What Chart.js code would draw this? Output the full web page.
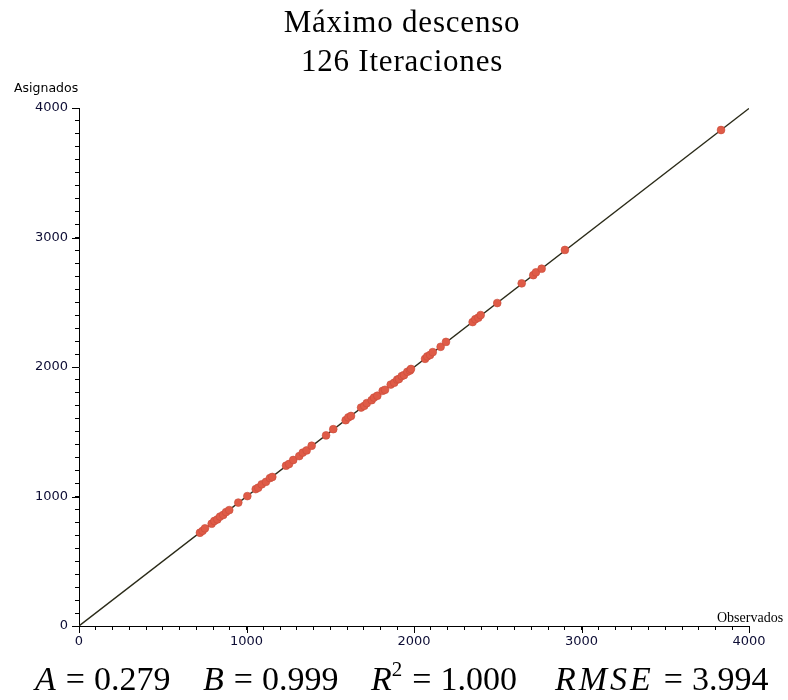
<!DOCTYPE html>
<html><head><meta charset="utf-8">
<script src="https://cdn.jsdelivr.net/npm/chart.js@4/dist/chart.umd.min.js"></script>
<style>
html,body{margin:0;padding:0;background:#fff;}
#wrap{position:relative;width:788px;height:700px;overflow:hidden;}
canvas{position:absolute;left:0;top:0;}
.t{position:absolute;font-family:"Liberation Serif",serif;color:#000;white-space:nowrap;line-height:1;}
.s{position:absolute;font-family:"DejaVu Sans",sans-serif;color:#000;white-space:nowrap;line-height:1;}
.m{position:absolute;top:662px;font-family:"Liberation Serif",serif;font-size:34px;line-height:1;white-space:nowrap;}
.m i{font-style:italic;}
.m .eq{margin:0 9px 0 10px;}
.m .wide{letter-spacing:3px;}
sup{font-size:21px;vertical-align:14px;line-height:0;}
</style></head><body>
<div id="wrap">
<canvas id="c" width="788" height="700"></canvas>
<div class="t" style="left:0;width:804px;text-align:center;top:6px;font-size:31px;letter-spacing:0.8px;">Máximo descenso</div>
<div class="t" style="left:0;width:804px;text-align:center;top:45px;font-size:31px;letter-spacing:0.8px;">126 Iteraciones</div>
<div class="s" style="left:14px;top:82px;font-size:12.5px;">Asignados</div>
<div class="t" style="left:717px;top:611px;font-size:14px;">Observados</div>
<div class="m" style="left:35px;"><i>A</i><span class="eq">=</span>0.279</div>
<div class="m" style="left:203px;"><i>B</i><span class="eq">=</span>0.999</div>
<div class="m" style="left:371px;"><i>R</i><sup>2</sup><span class="eq">=</span>1.000</div>
<div class="m" style="left:555px;"><i class="wide">RMSE</i><span class="eq">=</span>3.994</div>
</div>
<script>
const observados = [722,738,752,792,808,826,842,861,878,897,951,1005,1055,1070,1091,1116,1140,1154,1236,1254,1279,1315,1336,1359,1389,1475,1518,1592,1608,1624,1684,1703,1718,1747,1761,1781,1813,1827,1861,1882,1900,1910,1927,1940,1960,1976,1982,2066,2079,2096,2112,2159,2191,2350,2366,2384,2398,2497,2643,2712,2728,2762,2901,3833];
const asignados = [720,735,754,790,811,823,845,858,880,895,953,1003,1057,1068,1094,1113,1142,1151,1238,1251,1282,1312,1339,1356,1392,1472,1520,1589,1611,1622,1687,1700,1721,1744,1764,1778,1816,1824,1864,1879,1903,1907,1930,1937,1963,1973,1985,2063,2082,2093,2115,2156,2194,2347,2369,2381,2401,2494,2646,2709,2731,2759,2904,3830];
// Fit parameters
const fitA = 0.279;
const fitB = 0.999;
const lineRange = [0, 4000];
const majorTicks = [0, 1000, 2000, 3000, 4000];

const points = observados.map((x, i) => ({x: x, y: asignados[i]}));
const fitLine = lineRange.map(x => ({x: x, y: fitA + fitB * x}));

const majorTickPlugin = {
  id: 'majorTicks',
  afterDraw(chart) {
    const ctx = chart.ctx;
    const xs = chart.scales.x, ys = chart.scales.y;
    ctx.save();
    ctx.strokeStyle = '#000';
    ctx.lineWidth = 1;
    majorTicks.forEach(v => {
      const px = Math.round(xs.getPixelForValue(v)) + 0.5;
      ctx.beginPath(); ctx.moveTo(px, ys.bottom); ctx.lineTo(px, ys.bottom + 7); ctx.stroke();
      const py = Math.round(ys.getPixelForValue(v)) + 0.5;
      ctx.beginPath(); ctx.moveTo(xs.left - 7, py); ctx.lineTo(xs.left, py); ctx.stroke();
    });
    ctx.restore();
  }
};

const tickOpts = {
  stepSize: 100,
  autoSkip: false,
  maxRotation: 0,
  color: '#0c0c34',
  font: {family: 'DejaVu Sans', size: 13},
  callback: v => (v % 1000 === 0 ? String(v) : '')
};

new Chart(document.getElementById('c'), {
  type: 'scatter',
  data: {
    datasets: [
      {
        type: 'line',
        data: fitLine,
        borderColor: '#2a2a18',
        borderWidth: 1.4,
        pointRadius: 0,
        fill: false,
        order: 2
      },
      {
        data: points,
        backgroundColor: '#df5b47',
        borderColor: '#c94c3a',
        borderWidth: 0.6,
        pointRadius: 3.9,
        order: 1
      }
    ]
  },
  options: {
    responsive: false,
    animation: false,
    devicePixelRatio: 1,
    layout: {padding: {left: 0, top: 108, right: 39, bottom: 0}},
    plugins: {legend: {display: false}, tooltip: {enabled: false}, title: {display: false}},
    scales: {
      x: {
        type: 'linear', min: 0, max: 4000,
        grid: {drawOnChartArea: false, drawTicks: true, tickLength: 4, color: '#000'},
        border: {display: true, color: '#000', width: 1},
        ticks: Object.assign({}, tickOpts, {padding: 4}),
        afterFit: s => { s.height = 74; }
      },
      y: {
        type: 'linear', min: 0, max: 4000,
        grid: {drawOnChartArea: false, drawTicks: true, tickLength: 4, color: '#000'},
        border: {display: true, color: '#000', width: 1},
        ticks: Object.assign({}, tickOpts, {padding: 7}),
        afterFit: s => { s.width = 79; }
      }
    }
  },
  plugins: [majorTickPlugin]
});
</script>
</body></html>
